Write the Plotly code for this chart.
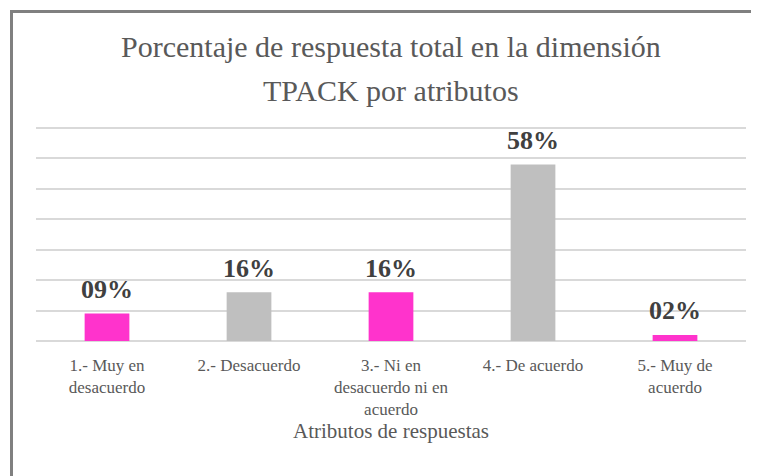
import plotly.graph_objects as go

categories = ["1.- Muy en<br>desacuerdo", "2.- Desacuerdo", "3.- Ni en<br>desacuerdo ni en<br>acuerdo",
              "4.- De acuerdo", "5.- Muy de<br>acuerdo"]
values = [9, 16, 16, 58, 2]
bar_colors = ["#FF33CC", "#BFBFBF", "#FF33CC", "#BFBFBF", "#FF33CC"]
title_lines = ["Porcentaje de respuesta total en la dimensión", "TPACK por atributos"]
x_title = "Atributos de respuestas"
y_ticks = [0, 10, 20, 30, 40, 50, 60, 70]
y_max = 71

SERIF = "Liberation Serif"
OFF = 8  # page body margin
W, H = 759 - OFF, 476 - OFF
# plot area in page pixels: x 36..746, y 125..341 (70 gridline at 128)
L = 36 - OFF
R = W - (746 - OFF)
T = 125 - OFF
B = H - (341 - OFF)
pw, ph = W - L - R, H - T - B

def px_x(x):
    return (x - OFF - L) / pw

def px_y(y):
    return (H - B - (y - OFF)) / ph

fig = go.Figure()
fig.add_trace(go.Bar(
    x=categories, y=values, marker=dict(color=bar_colors, line=dict(width=0)),
    hoverinfo="skip", showlegend=False,
))

annotations = []
for c, v in zip(categories, values):
    annotations.append(dict(
        x=c, y=v, xref="x", yref="y", text=f"<b>{v:02d}%</b>", showarrow=False,
        yanchor="middle", yshift=24,
        font=dict(family=SERIF, size=26, color="#404040"),
    ))
annotations.append(dict(x=0.5, y=px_y(47), xref="paper", yref="paper", text=title_lines[0],
                        showarrow=False, yanchor="middle",
                        font=dict(family=SERIF, size=30, color="#595959")))
annotations.append(dict(x=0.5, y=px_y(90), xref="paper", yref="paper", text=title_lines[1],
                        showarrow=False, yanchor="middle",
                        font=dict(family=SERIF, size=30, color="#595959")))
annotations.append(dict(x=0.5, y=px_y(431), xref="paper", yref="paper", text=x_title,
                        showarrow=False, yanchor="middle",
                        font=dict(family=SERIF, size=21, color="#595959")))

fig.update_layout(
    width=W, height=H, autosize=False,
    margin=dict(l=L, r=R, t=T, b=B, autoexpand=False),
    paper_bgcolor="white", plot_bgcolor="white",
    bargap=0.685,
    annotations=annotations,
    shapes=[dict(type="rect", xref="paper", yref="paper",
                 x0=px_x(11.5), x1=px_x(900), y0=px_y(800), y1=px_y(11.5),
                 line=dict(color="#808080", width=3), fillcolor="rgba(0,0,0,0)", layer="above")],
)
fig.update_yaxes(range=[0, y_max], tickvals=y_ticks, showticklabels=False,
                 showgrid=True, gridcolor="#D9D9D9", gridwidth=1.5,
                 zeroline=True, zerolinecolor="#D9D9D9", zerolinewidth=1.5, showline=False)
fig.update_xaxes(showline=False, ticks="", tickfont=dict(family=SERIF, size=17, color="#595959"),
                 ticklabelstandoff=12, automargin=False)

fig.write_html("out.html")
